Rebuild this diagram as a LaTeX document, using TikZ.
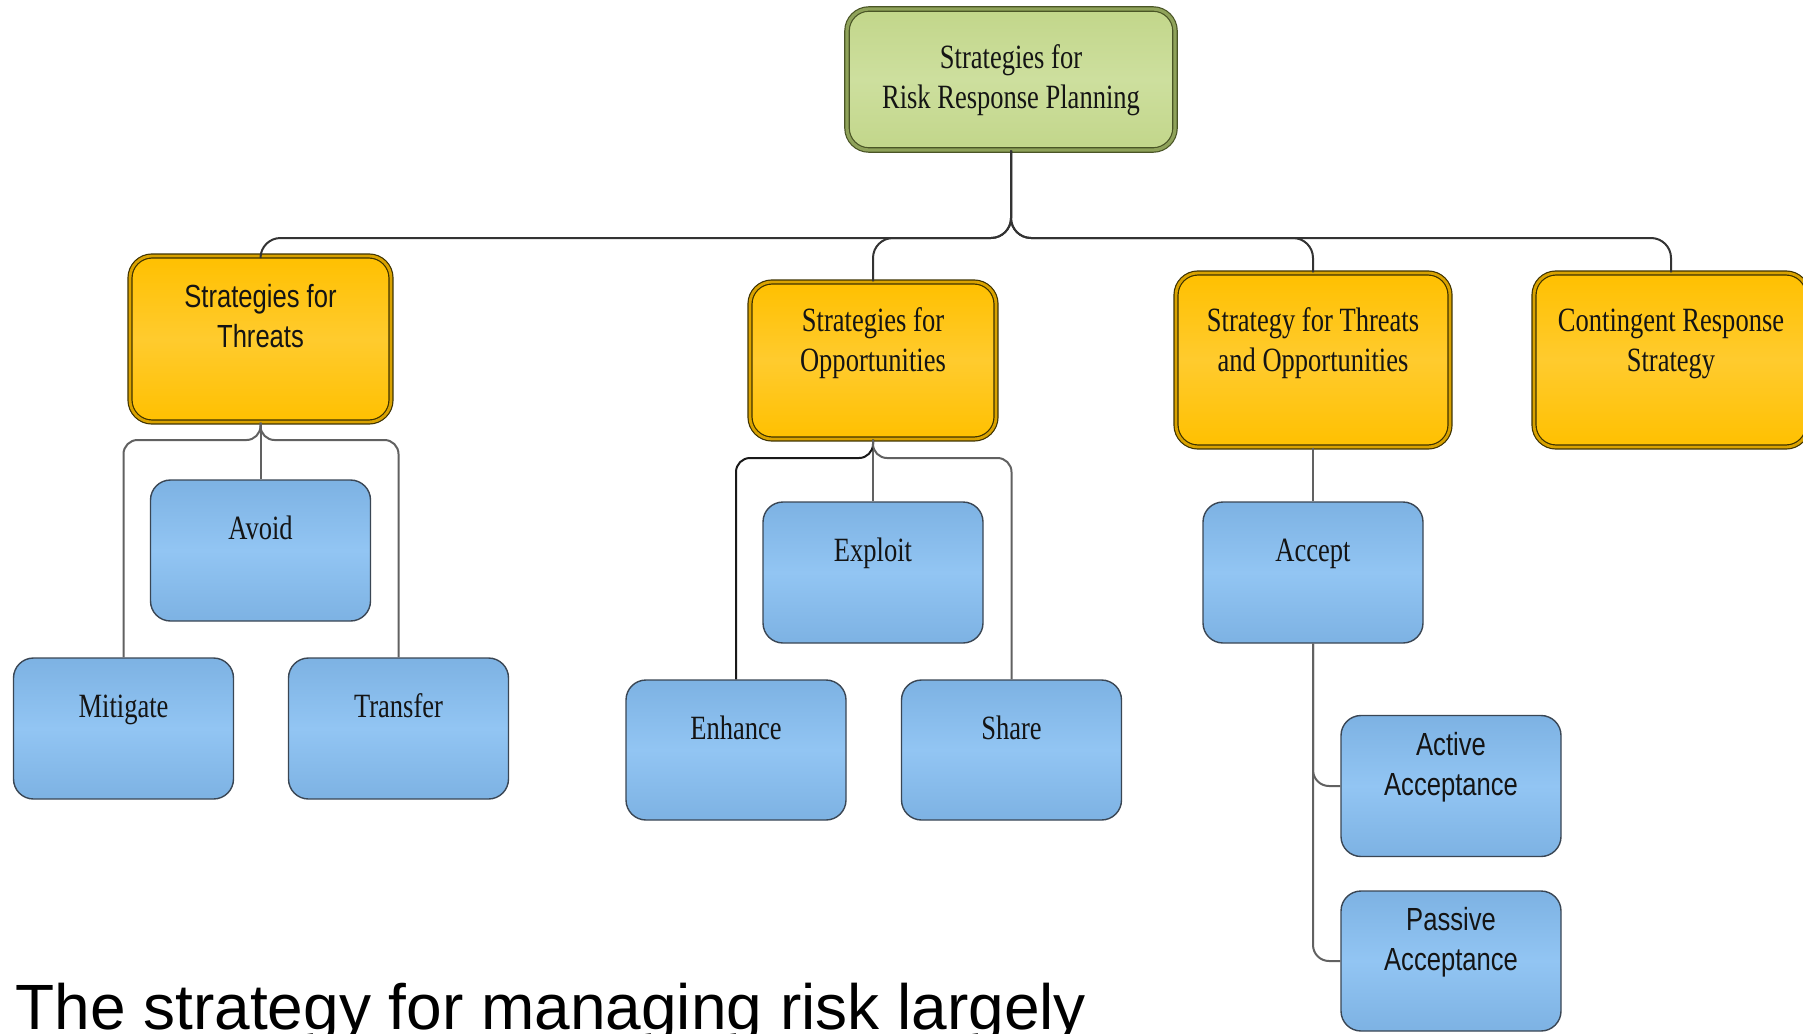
\documentclass[tikz,border=0pt]{standalone}
\usepackage{fontspec}
\setmainfont{Liberation Serif}
\newfontfamily\serbox[FakeStretch=0.78]{Liberation Serif}
\newfontfamily\sanbox[FakeStretch=0.8]{Liberation Sans}
\newfontfamily\captfont{Liberation Sans}
\definecolor{yedge}{HTML}{FFC000}
\definecolor{ymid}{HTML}{FFCB2E}
\definecolor{ydraw}{HTML}{3E3200}
\definecolor{ygap}{HTML}{D9A200}
\definecolor{gedge}{HTML}{C2D68A}
\definecolor{gmid}{HTML}{CDDF9E}
\definecolor{gdraw}{HTML}{4A5526}
\definecolor{ggap}{HTML}{8FA25A}
\definecolor{bedge}{HTML}{7DB2E3}
\definecolor{bmid}{HTML}{92C5F3}
\definecolor{bdraw}{HTML}{3A4654}
\definecolor{txt}{HTML}{141414}
\newcommand{\boxtxt}[2]{\raisebox{#1}[0pt][0pt]{\begin{tabular}{@{}c@{}}#2\end{tabular}}}
\tikzset{
  basebox/.style={rectangle, inner sep=0pt, text=txt, font=\serbox\fontsize{17}{20}\selectfont},
  sansbox/.style={font=\sanbox\fontsize{16}{20}\selectfont},
  bluebox/.style={basebox, rounded corners=10pt, draw=bdraw, line width=0.7pt,
    top color=bedge, bottom color=bedge, middle color=bmid,
    minimum width=110pt, minimum height=70.5pt},
  ybox/.style={basebox, rounded corners=11pt, draw=ydraw, double=ygap, double distance=1.4pt, line width=0.6pt,
    top color=yedge, bottom color=yedge, middle color=ymid},
  gbox/.style={basebox, rounded corners=11pt, draw=gdraw, double=ggap, double distance=1.6pt, line width=0.6pt,
    top color=gedge, bottom color=gedge, middle color=gmid},
  busline/.style={draw=black!80, line width=1pt, rounded corners=10pt},
  conn/.style={draw=black!62, line width=1pt, rounded corners=7pt},
}
\begin{document}
\begin{tikzpicture}[x=0.5pt, y=-0.5pt]
\useasboundingbox (0,0) rectangle (1803,1033);
% root
\node[gbox, minimum width=164pt, minimum height=70.5pt] (root) at (1011,79.5)
  {\boxtxt{-5pt}{Strategies for\\Risk Response Planning}};
% level 1
\node[ybox, sansbox, minimum width=130.5pt, minimum height=83pt] (thr) at (260.5,339)
  {\boxtxt{5.5pt}{Strategies for\\Threats}};
\node[ybox, minimum width=123pt, minimum height=78.5pt] (opp) at (873,360.5)
  {\boxtxt{4pt}{Strategies for\\Opportunities}};
\node[ybox, minimum width=137pt, minimum height=87pt] (tao) at (1313,360)
  {\boxtxt{4pt}{Strategy for Threats\\and Opportunities}};
\node[ybox, minimum width=137pt, minimum height=87pt] (con) at (1671,360)
  {\boxtxt{4pt}{Contingent Response\\Strategy}};
% level 2
\node[bluebox] (avo) at (260.5,550.5) {\boxtxt{5pt}{Avoid}};
\node[bluebox] (mit) at (123.5,728.5) {\boxtxt{5pt}{Mitigate}};
\node[bluebox] (tra) at (398.5,728.5) {\boxtxt{5pt}{Transfer}};
\node[bluebox] (exp) at (873,572.5) {\boxtxt{5pt}{Exploit}};
\node[bluebox, minimum height=70pt] (enh) at (736,750) {\boxtxt{5pt}{Enhance}};
\node[bluebox, minimum height=70pt] (sha) at (1011.5,750) {\boxtxt{5pt}{Share}};
\node[bluebox] (acc) at (1313,572.5) {\boxtxt{5pt}{Accept}};
\node[bluebox, sansbox] (act) at (1451,786) {\boxtxt{5pt}{Active\\Acceptance}};
\node[bluebox, sansbox, minimum height=70pt] (pas) at (1451,961) {\boxtxt{5pt}{Passive\\Acceptance}};
% connectors
\coordinate (bus) at (0,238);
\foreach \c in {thr,opp,tao,con}
  \draw[busline] (root.south) |- (\c.north |- bus) -- (\c.north);
\coordinate (tbar) at (0,440);
\draw[conn] (thr.south) -- (avo.north);
\draw[conn] (thr.south) |- (mit.north |- tbar) -- (mit.north);
\draw[conn] (thr.south) |- (tra.north |- tbar) -- (tra.north);
\coordinate (obar) at (0,458);
\draw[conn] (opp.south) -- (exp.north);
\draw[conn, draw=black!90] (opp.south) |- (enh.north |- obar) -- (enh.north);
\draw[conn] (opp.south) |- (sha.north |- obar) -- (sha.north);
\draw[conn] (tao.south) -- (acc.north);
\draw[conn, rounded corners=8pt] (acc.south) |- (act.west);
\draw[conn, rounded corners=8pt] (acc.south) |- (pas.west);
% caption (cut off at the bottom edge, as in the reference)
\node[anchor=base west, inner sep=0pt, text=black, font=\captfont\fontsize{32}{38}\selectfont] (cap) at (15,1029)
  {The strategy for managing risk largely};
\end{tikzpicture}
\end{document}
